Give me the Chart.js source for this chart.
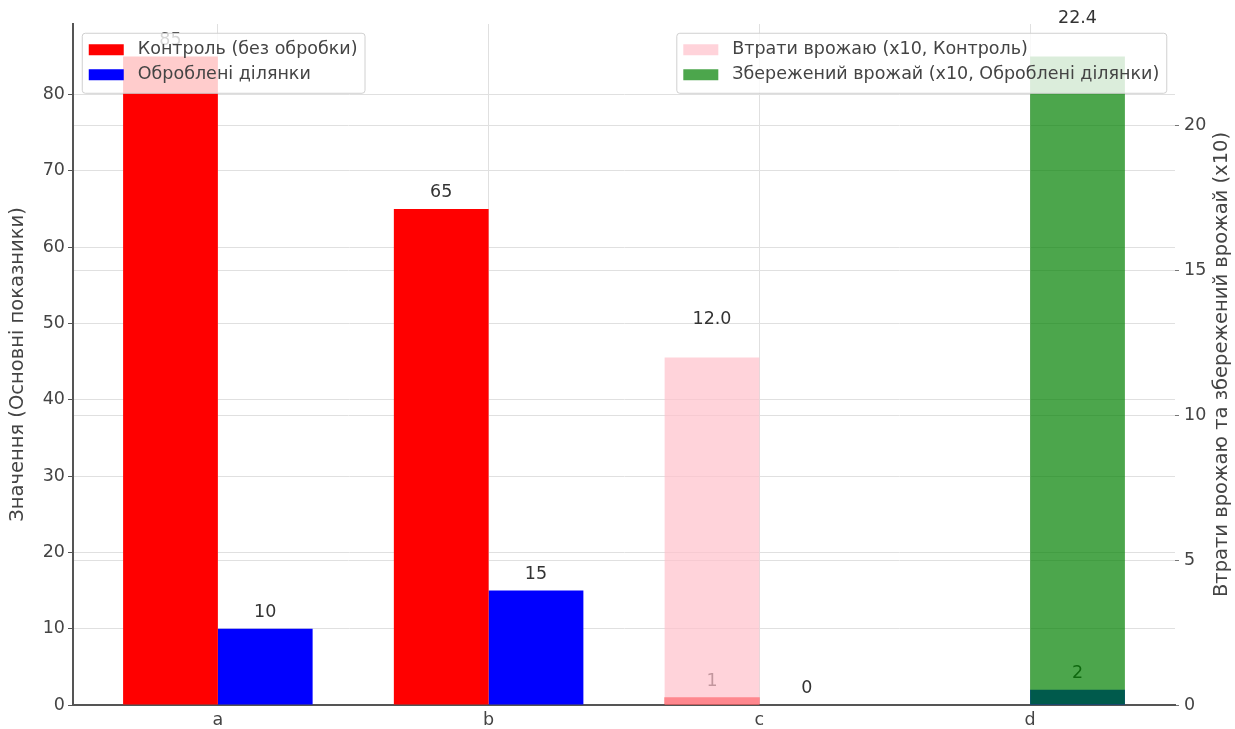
<!DOCTYPE html>
<html lang="uk">

<head>
  <meta charset="UTF-8" />
  <title>Контроль та оброблені ділянки</title>
  <script src="https://cdn.jsdelivr.net/npm/chart.js"></script>
</head>
<style>
  html,
  body {
    margin: 0;
    padding: 0;
    background: #fff;
  }

  .graphe {
    width: 1235px;
    height: 729px;
    position: relative;
  }
</style>

<body>
  <div class="graphe">
    <canvas id="myChart"></canvas>
  </div>

  <script>
    // data
    const categories = ['a', 'b', 'c', 'd'];
    const control = [85, 65, 1, null];
    const treated = [10, 15, 0, 2];
    const lossesX10 = [null, null, 12.0, null];
    const savedX10 = [null, null, null, 22.4];

    const leftTicks = [0, 10, 20, 30, 40, 50, 60, 70, 80];
    const rightTicks = [0, 5, 10, 15, 20];
    const leftMax = 89.25;
    const rightMax = 23.52;
    const xMin = -0.535;
    const xMax = 3.535;

    const leftLegend = ['Контроль (без обробки)', 'Оброблені ділянки'];
    const rightLegend = ['Втрати врожаю (x10, Контроль)', 'Збережений врожай (x10, Оброблені ділянки)'];
    const leftTitle = 'Значення (Основні показники)';
    const rightTitle = 'Втрати врожаю та збережений врожай (x10)';

    const FONT = 'DejaVu Sans';
    const SIZE = 17.5;
    const TITLE_SIZE = 19.5;
    const TXT = '#444';
    const GRID = '#e0e0e0';

    Chart.defaults.font.family = FONT;
    Chart.defaults.font.size = SIZE;
    Chart.defaults.color = TXT;

    const points = (values) => values.map((v, i) => ({ x: i, y: v }));

    function drawLegend(ctx, area, items, side) {
      const em = SIZE;
      ctx.font = SIZE + 'px "' + FONT + '"';
      const textW = Math.max(...items.map(it => ctx.measureText(it.label).width));
      const w = 0.4 * em + 2 * em + 0.8 * em + textW + 0.4 * em;
      const h = 60;
      const x = side === 'left' ? area.left + 0.5 * em : area.right - 0.5 * em - w;
      const y = area.top + 0.5 * em;

      ctx.save();
      ctx.fillStyle = 'rgba(255,255,255,0.8)';
      ctx.strokeStyle = '#d0d0d0';
      ctx.lineWidth = 1;
      ctx.beginPath();
      ctx.roundRect(x + 0.5, y + 0.5, w, h, 3);
      ctx.fill();
      ctx.stroke();

      items.forEach((it, i) => {
        const cy = y + 17 + i * 25;
        ctx.fillStyle = it.color;
        ctx.fillRect(x + 0.4 * em, cy - 5.5, 2 * em, 11);
        ctx.fillStyle = TXT;
        ctx.textAlign = 'left';
        ctx.textBaseline = 'middle';
        ctx.fillText(it.label, x + 0.4 * em + 2 * em + 0.8 * em, cy);
      });
      ctx.restore();
    }

    const annotate = {
      id: 'annotate',
      afterDatasetDraw(chart, args) {
        const ds = chart.data.datasets[args.index];
        const scale = chart.scales[ds.yAxisID];
        const ctx = chart.ctx;
        ctx.save();
        ctx.font = SIZE + 'px "' + FONT + '"';
        ctx.fillStyle = '#333';
        ctx.textAlign = 'center';
        ctx.textBaseline = 'bottom';
        args.meta.data.forEach((bar, i) => {
          const v = ds.data[i].y;
          if (v === null) return;
          // label sits 1 unit above the bar
          ctx.fillText(v.toFixed(ds.decimals), bar.x, scale.getPixelForValue(v + 1));
        });
        ctx.restore();
      },
      afterDatasetsDraw(chart) {
        const ctx = chart.ctx;
        const area = chart.chartArea;
        drawLegend(ctx, area, [
          { label: leftLegend[0], color: '#ff0000' },
          { label: leftLegend[1], color: '#0000ff' }
        ], 'left');
        drawLegend(ctx, area, [
          { label: rightLegend[0], color: 'rgba(255,192,203,0.7)' },
          { label: rightLegend[1], color: 'rgba(0,128,0,0.7)' }
        ], 'right');

        // right axis title, read bottom to top like the left one
        ctx.save();
        ctx.font = TITLE_SIZE + 'px "' + FONT + '"';
        ctx.fillStyle = TXT;
        ctx.textAlign = 'center';
        ctx.textBaseline = 'middle';
        ctx.translate(1222, (area.top + area.bottom) / 2);
        ctx.rotate(-Math.PI / 2);
        ctx.fillText(rightTitle, 0, 0);
        ctx.restore();
      }
    };

    new Chart(document.getElementById('myChart'), {
      type: 'bar',
      data: {
        datasets: [{
          label: leftLegend[0],
          data: points(control),
          yAxisID: 'y',
          stack: 'left',
          order: 2,
          decimals: 0,
          backgroundColor: '#ff0000'
        }, {
          label: leftLegend[1],
          data: points(treated),
          yAxisID: 'y',
          stack: 'right',
          order: 2,
          decimals: 0,
          backgroundColor: '#0000ff'
        }, {
          label: rightLegend[0],
          data: points(lossesX10),
          yAxisID: 'y2',
          stack: 'left',
          order: 1,
          decimals: 1,
          backgroundColor: 'rgba(255,192,203,0.7)'
        }, {
          label: rightLegend[1],
          data: points(savedX10),
          yAxisID: 'y2',
          stack: 'right',
          order: 1,
          decimals: 1,
          backgroundColor: 'rgba(0,128,0,0.7)'
        }]
      },
      options: {
        responsive: true,
        maintainAspectRatio: false,
        animation: false,
        events: [],
        barPercentage: 1,
        categoryPercentage: 0.7,
        layout: { padding: { top: 24, left: 0, right: 0, bottom: 0 } },
        plugins: {
          legend: { display: false },
          tooltip: { enabled: false }
        },
        scales: {
          x: {
            type: 'linear',
            min: xMin,
            max: xMax,
            offset: false,
            afterBuildTicks: s => { s.ticks = categories.map((c, i) => ({ value: i })); },
            afterFit: s => { s.height = 24; },
            ticks: { callback: v => categories[v], padding: 1, maxRotation: 0, autoSkip: false },
            grid: { offset: false, color: GRID, tickLength: 4, tickColor: 'rgba(0,0,0,0)' },
            border: { color: '#555', width: 2 }
          },
          y: {
            position: 'left',
            min: 0,
            max: leftMax,
            stacked: false,
            afterBuildTicks: s => { s.ticks = leftTicks.map(v => ({ value: v })); },
            afterFit: s => { s.width = 73; },
            ticks: { padding: 3 },
            grid: { color: GRID, tickLength: 5, tickColor: '#555' },
            border: { color: '#555', width: 2 },
            title: {
              display: true, text: leftTitle, color: TXT,
              font: { size: TITLE_SIZE }, padding: { top: 6, bottom: 0 }
            }
          },
          y2: {
            position: 'right',
            min: 0,
            max: rightMax,
            stacked: false,
            afterBuildTicks: s => { s.ticks = rightTicks.map(v => ({ value: v })); },
            afterFit: s => { s.width = 60; },
            ticks: { padding: 5 },
            grid: { color: GRID, tickLength: 4, tickColor: '#777' },
            border: { display: false }
          }
        }
      },
      plugins: [annotate]
    });
  </script>
</body>

</html>
